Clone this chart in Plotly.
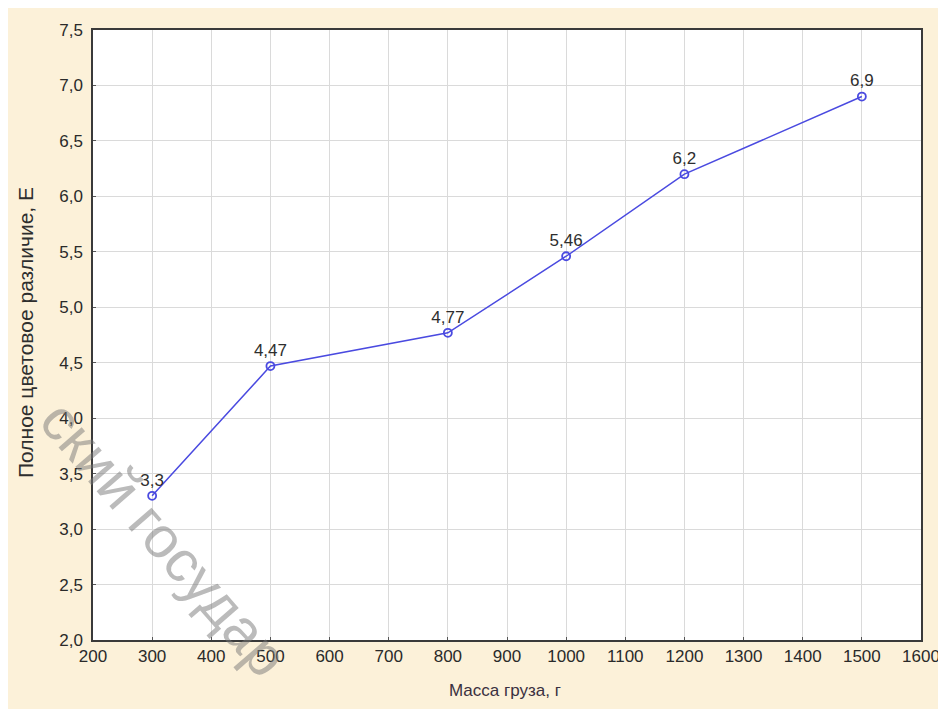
import plotly.graph_objects as go

# ---- data ----
mass_g = [300, 500, 800, 1000, 1200, 1500]
color_diff_E = [3.3, 4.47, 4.77, 5.46, 6.2, 6.9]
point_labels = ["3,3", "4,47", "4,77", "5,46", "6,2", "6,9"]

x_tick_vals = [200, 300, 400, 500, 600, 700, 800, 900, 1000, 1100, 1200, 1300, 1400, 1500, 1600]
x_tick_text = ["200", "300", "400", "500", "600", "700", "800", "900", "1000", "1100", "1200", "1300", "1400", "1500", "1600"]
y_tick_vals = [2.0, 2.5, 3.0, 3.5, 4.0, 4.5, 5.0, 5.5, 6.0, 6.5, 7.0, 7.5]
y_tick_text = ["2,0", "2,5", "3,0", "3,5", "4,0", "4,5", "5,0", "5,5", "6,0", "6,5", "7,0", "7,5"]

x_title = "Масса груза, г"
y_title = "Полное цветовое различие, Е"
watermark = "ский государ"

# ---- layout geometry (pixels, figure coords; page body adds an 8px offset) ----
W, H = 938, 701
L, R, T, B = 85, 25, 22, 69
pw, ph = W - L - R, H - T - B


def px(x):
    return (x - L) / pw


def py(y):
    return (H - B - y) / ph


FONT = "Liberation Sans, Arial, sans-serif"

fig = go.Figure()
fig.add_trace(go.Scatter(
    x=mass_g, y=color_diff_E, mode="lines+markers+text",
    text=point_labels, textposition="top center",
    textfont=dict(family=FONT, size=17, color="#2e2e2e"),
    line=dict(color="#4a4ae0", width=1.5),
    marker=dict(symbol="circle-open", size=8, color="#4a4ae0", line=dict(width=1.8)),
    cliponaxis=False, showlegend=False,
))

axis_common = dict(
    showline=True, mirror=True, linecolor="#3a3a3a", linewidth=1.5,
    showgrid=True, gridcolor="#dadada", gridwidth=1,
    ticks="inside", ticklen=3, tickcolor="#555555",
    tickfont=dict(family=FONT, size=17, color="#2a2a2a"),
    zeroline=False,
)

fig.update_xaxes(range=[200, 1600], tickvals=x_tick_vals, ticktext=x_tick_text, **axis_common)
fig.update_yaxes(range=[2.0, 7.5], tickvals=y_tick_vals, ticktext=y_tick_text,
                 ticklabelstandoff=5, **axis_common)

fig.update_layout(
    width=W, height=H,
    margin=dict(l=L, r=R, t=T, b=B, autoexpand=False),
    paper_bgcolor="#fcf1d9", plot_bgcolor="white",
    annotations=[
        dict(text=x_title, xref="paper", yref="paper", x=px(497), y=py(682),
             xanchor="center", yanchor="middle",
             showarrow=False, font=dict(family=FONT, size=17, color="#3a3040")),
        dict(text=y_title, xref="paper", yref="paper", x=px(17), y=py(325), textangle=-90,
             xanchor="center", yanchor="middle",
             showarrow=False, font=dict(family=FONT, size=21, color="#2e2e2e")),
        dict(text=watermark, xref="paper", yref="paper", x=px(157), y=py(530), textangle=49,
             xanchor="center", yanchor="middle",
             showarrow=False, font=dict(family=FONT, size=58, color="rgba(120,120,120,0.5)")),
    ],
)

fig.write_html("out.html")
